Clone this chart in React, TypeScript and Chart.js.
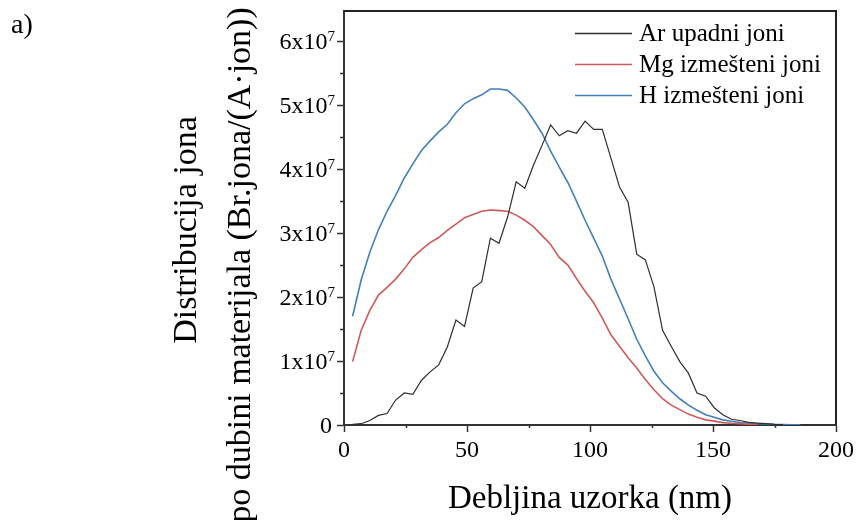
import { useEffect, useRef } from 'react';
import { Chart, registerables } from 'chart.js';

Chart.register(...registerables);

// Depth bins (nm)
const depthNm = [
  3.5, 7, 10.5, 14, 17.5, 21, 24.5, 28, 31.5, 35, 38.5, 42, 45.5, 49, 52.5, 56, 59.5, 63, 66.5, 70,
  73.5, 77, 80.5, 84, 87.5, 91, 94.5, 98, 101.5, 105, 108.5, 112, 115.5, 119, 122.5, 126, 129.5, 133,
  136.5, 140, 143.5, 147, 150.5, 154, 157.5, 161, 164.5, 168, 171.5, 175, 178.5, 182, 185.5, 189,
  192.5, 196, 199.5,
];

// Ion distributions, in units of 10^7 (Br.jona/(A·jon))
const arIncident = [
  0.01, 0.02, 0.07, 0.15, 0.18, 0.39, 0.5, 0.48, 0.7, 0.83, 0.94, 1.22, 1.64, 1.54, 2.14, 2.24, 2.92,
  2.84, 3.25, 3.8, 3.7, 4.06, 4.37, 4.69, 4.52, 4.6, 4.56, 4.75, 4.62, 4.62, 4.17, 3.72, 3.48, 2.67,
  2.58, 2.16, 1.48, 1.23, 0.99, 0.81, 0.5, 0.45, 0.27, 0.16, 0.09, 0.07, 0.04, 0.03, 0.02, 0.01, 0.005,
];
const mgDisplaced = [
  0.99, 1.48, 1.79, 2.03, 2.15, 2.28, 2.44, 2.62, 2.74, 2.85, 2.93, 3.04, 3.14, 3.24, 3.29, 3.34, 3.36,
  3.35, 3.34, 3.28, 3.2, 3.1, 2.96, 2.82, 2.62, 2.5, 2.29, 2.09, 1.91, 1.67, 1.41, 1.23, 1.05, 0.89,
  0.71, 0.55, 0.41, 0.31, 0.24, 0.17, 0.12, 0.08, 0.06, 0.037, 0.027, 0.02, 0.012, 0.006,
];
const hDisplaced = [
  1.7, 2.27, 2.7, 3.05, 3.34, 3.59, 3.86, 4.08, 4.29, 4.44, 4.58, 4.7, 4.88, 5.02, 5.1, 5.16, 5.25,
  5.25, 5.23, 5.11, 4.97, 4.77, 4.56, 4.28, 4.03, 3.79, 3.5, 3.2, 2.92, 2.64, 2.28, 1.97, 1.66, 1.34,
  1.08, 0.84, 0.66, 0.53, 0.41, 0.31, 0.23, 0.16, 0.12, 0.08, 0.058, 0.038, 0.03, 0.02, 0.015, 0.01,
  0.008, 0.005, 0.003,
];

const seriesLabels = ['Ar upadni joni', 'Mg izmešteni joni', 'H izmešteni joni'];
const seriesColors = ['#2f2f2f', 'rgb(206,90,90)', 'rgb(66,128,188)'];
const yTickValues = [0, 1, 2, 3, 4, 5, 6];
const yExponent = '7';
const xTitle = 'Debljina uzorka (nm)';
const yTitleLines = ['Distribucija jona', 'po dubini materijala (Br.jona/(A·jon))'];
const panelLabel = 'a)';

const SERIF = '"Liberation Serif", "Times New Roman", serif';
const AXIS_COLOR = '#333';

const toPoints = (values: number[]) => values.map((v, i) => ({ x: depthNm[i], y: v }));

const decorations = {
  id: 'decorations',
  afterDraw(chart: any) {
    const { ctx, chartArea: a } = chart;
    const x = chart.scales.x;
    const y = chart.scales.y;
    ctx.save();

    // top and right frame
    ctx.strokeStyle = '#222';
    ctx.lineWidth = 2;
    ctx.beginPath();
    ctx.moveTo(a.left, a.top);
    ctx.lineTo(a.right, a.top);
    ctx.lineTo(a.right, a.bottom);
    ctx.stroke();

    // minor ticks
    ctx.strokeStyle = AXIS_COLOR;
    ctx.lineWidth = 1.5;
    ctx.beginPath();
    for (let v = 0.5; v < y.max; v += 1) {
      const py = Math.round(y.getPixelForValue(v)) + 0.5;
      ctx.moveTo(a.left - 4, py);
      ctx.lineTo(a.left, py);
    }
    for (let v = 25; v < x.max; v += 50) {
      const px = Math.round(x.getPixelForValue(v)) + 0.5;
      ctx.moveTo(px, a.bottom);
      ctx.lineTo(px, a.bottom + 3);
    }
    ctx.stroke();

    // y tick labels: N x 10^7
    ctx.fillStyle = '#000';
    ctx.textAlign = 'right';
    ctx.textBaseline = 'alphabetic';
    const labelRight = a.left - 9;
    for (const v of yTickValues) {
      const py = y.getPixelForValue(v);
      if (v === 0) {
        ctx.font = `24px ${SERIF}`;
        ctx.fillText('0', labelRight - 3, py + 8);
        continue;
      }
      ctx.font = `15px ${SERIF}`;
      const expW = ctx.measureText(yExponent).width;
      ctx.fillText(yExponent, labelRight, py);
      ctx.font = `24px ${SERIF}`;
      ctx.fillText(`${v}x10`, labelRight - expW, py + 8);
    }

    // y title, two rotated lines
    ctx.font = `34px ${SERIF}`;
    ctx.textAlign = 'center';
    const titlePos = [
      [196, 230],
      [250, 265],
    ];
    yTitleLines.forEach((line, i) => {
      ctx.save();
      ctx.translate(titlePos[i][0], titlePos[i][1]);
      ctx.rotate(-Math.PI / 2);
      ctx.fillText(line, 0, 0);
      ctx.restore();
    });

    // panel label
    ctx.textAlign = 'left';
    ctx.font = `28px ${SERIF}`;
    ctx.fillText(panelLabel, 11, 33);

    // legend
    ctx.font = `25px ${SERIF}`;
    chart.data.datasets.forEach((ds: any, i: number) => {
      const rowY = 33 + i * 31;
      ctx.strokeStyle = ds.borderColor;
      ctx.lineWidth = 1.3;
      ctx.beginPath();
      ctx.moveTo(575, rowY + 0.5);
      ctx.lineTo(632, rowY + 0.5);
      ctx.stroke();
      ctx.fillText(ds.label, 639, rowY + 8);
    });

    ctx.restore();
  },
};

export default function App() {
  const canvasRef = useRef<HTMLCanvasElement | null>(null);

  useEffect(() => {
    if (!canvasRef.current) return;
    const chart = new Chart(canvasRef.current, {
      type: 'line',
      data: {
        datasets: [arIncident, mgDisplaced, hDisplaced].map((values, i) => ({
          label: seriesLabels[i],
          data: toPoints(values),
          borderColor: seriesColors[i],
          backgroundColor: seriesColors[i],
          borderWidth: i === 0 ? 1.2 : 1.6,
          pointRadius: 0,
          tension: 0,
          fill: false,
        })),
      },
      options: {
        responsive: false,
        animation: false,
        devicePixelRatio: 1,
        layout: { padding: { left: 0, right: 23, top: 11, bottom: 0 } },
        plugins: {
          legend: { display: false },
          tooltip: { enabled: false },
        },
        scales: {
          x: {
            type: 'linear',
            min: 0,
            max: 200,
            border: { display: true, color: AXIS_COLOR, width: 2 },
            grid: {
              display: true,
              drawOnChartArea: false,
              drawTicks: true,
              tickLength: 7,
              tickColor: AXIS_COLOR,
              tickWidth: 1.5,
            },
            ticks: {
              stepSize: 50,
              color: '#000',
              font: { family: SERIF, size: 24 },
              padding: 4,
              maxRotation: 0,
              autoSkip: false,
            },
            title: {
              display: true,
              text: xTitle,
              color: '#000',
              font: { family: SERIF, size: 33 },
              padding: { top: 0, bottom: 1 },
            },
            afterFit: (scale: any) => {
              scale.height = 95;
              scale.paddingLeft = 0;
              scale.paddingRight = 0;
            },
          },
          y: {
            type: 'linear',
            min: 0,
            max: 6.47,
            border: { display: true, color: AXIS_COLOR, width: 2 },
            grid: {
              display: true,
              drawOnChartArea: false,
              drawTicks: true,
              tickLength: 7,
              tickColor: AXIS_COLOR,
              tickWidth: 1.5,
            },
            ticks: { display: false, stepSize: 1 },
            afterBuildTicks: (scale: any) => {
              scale.ticks = scale.ticks.filter((t: any) => Math.abs(t.value - Math.round(t.value)) < 1e-6);
            },
            afterFit: (scale: any) => {
              scale.width = 344;
              scale.paddingTop = 0;
              scale.paddingBottom = 0;
            },
          },
        },
      },
      plugins: [decorations],
    });
    return () => chart.destroy();
  }, []);

  return (
    <div style={{ position: 'absolute', left: 0, top: 0, width: 859, height: 520, background: '#fff' }}>
      <canvas ref={canvasRef} width={859} height={520} style={{ display: 'block' }} />
    </div>
  );
}
